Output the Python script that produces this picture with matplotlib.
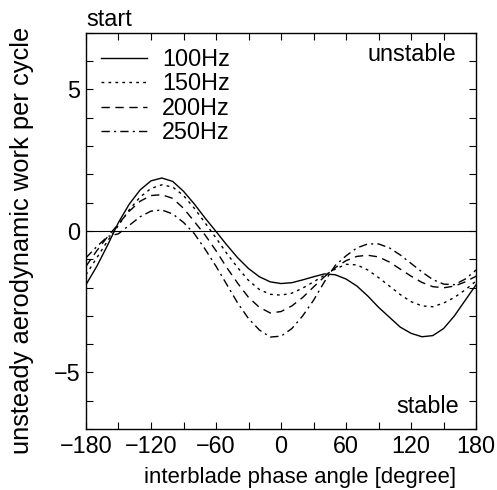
import matplotlib
matplotlib.use("Agg")
import matplotlib.pyplot as plt
from matplotlib.ticker import MultipleLocator, FixedLocator

plt.rcParams['font.family'] = ['Liberation Sans', 'DejaVu Sans']

angle = list(range(-180, 181, 10))

w100 = [-1.9, -1.25, -0.5, 0.3, 0.95, 1.45, 1.77, 1.87, 1.75, 1.4, 0.95, 0.45,
        -0.02, -0.5, -0.95, -1.33, -1.62, -1.8, -1.86, -1.83, -1.73, -1.62, -1.52,
        -1.55, -1.7, -1.95, -2.3, -2.7, -3.05, -3.4, -3.62, -3.74, -3.7, -3.45,
        -3.0, -2.45, -1.9]
w150 = [-1.55, -0.95, -0.35, 0.2, 0.75, 1.2, 1.5, 1.63, 1.55, 1.25, 0.8, 0.28,
        -0.25, -0.8, -1.3, -1.75, -2.07, -2.24, -2.27, -2.2, -2.02, -1.8, -1.57,
        -1.35, -1.18, -1.2, -1.38, -1.65, -1.95, -2.25, -2.5, -2.65, -2.68, -2.55,
        -2.35, -2.08, -1.77]
w200 = [-1.25, -0.7, -0.2, 0.25, 0.7, 1.05, 1.25, 1.28, 1.15, 0.8, 0.33, -0.15,
        -0.7, -1.3, -1.85, -2.35, -2.7, -2.9, -2.85, -2.65, -2.35, -1.98, -1.62,
        -1.3, -1.05, -0.9, -0.86, -0.92, -1.1, -1.35, -1.6, -1.82, -1.97, -2.01,
        -1.95, -1.8, -1.6]
w250 = [-0.95, -0.55, -0.2, -0.1, 0.2, 0.5, 0.7, 0.74, 0.6, 0.3, -0.1, -0.65,
        -1.25, -1.9, -2.55, -3.1, -3.5, -3.75, -3.72, -3.45, -3.0, -2.45, -1.8,
        -1.22, -0.88, -0.6, -0.46, -0.46, -0.6, -0.85, -1.15, -1.45, -1.72, -1.88,
        -1.9, -1.7, -1.38]

labels = ['100Hz', '150Hz', '200Hz', '250Hz']
styles = ['-', (0, (2, 3)), (0, (6, 4)), (0, (6, 3, 1.5, 3))]

xticks = [-180, -120, -60, 0, 60, 120, 180]
yticks = [-5, 0, 5]

FS = 16.8

fig = plt.figure(figsize=(4.97, 4.9), dpi=100)
ax = fig.add_axes([0.173, 0.1245, 0.785, 0.8085])

for w, lab, ls in zip([w100, w150, w200, w250], labels, styles):
    ax.plot(angle, w, color='black', lw=1.0, linestyle=ls, label=lab)

ax.axhline(0, color='black', lw=0.8)

ax.set_xlim(-180, 180)
ax.set_ylim(-7, 7)
ax.xaxis.set_major_locator(FixedLocator(xticks))
ax.xaxis.set_minor_locator(MultipleLocator(30))
ax.yaxis.set_major_locator(FixedLocator(yticks))
ax.yaxis.set_minor_locator(MultipleLocator(1))
ax.tick_params(which='both', direction='in', top=True, right=True,
               length=5, width=0.8, labelsize=FS)
ax.tick_params(axis='x', pad=4)
ax.tick_params(axis='y', pad=4)

ax.set_xlabel('interblade phase angle [degree]', fontsize=15.9)
ax.set_ylabel('unsteady aerodynamic work per cycle', fontsize=18.4)
ax.xaxis.set_label_coords(0.549, -0.097)
ax.yaxis.set_label_coords(-0.133, 0.476)

ax.text(0.0, 1.005, 'start', transform=ax.transAxes, fontsize=FS,
        ha='left', va='bottom')
ax.text(0.948, 0.975, 'unstable', transform=ax.transAxes, fontsize=FS,
        ha='right', va='top')
ax.text(0.955, 0.028, 'stable', transform=ax.transAxes, fontsize=FS,
        ha='right', va='bottom')

leg = ax.legend(loc='upper left', frameon=False, fontsize=FS,
                handlelength=1.95, handletextpad=0.65, labelspacing=0.06,
                borderaxespad=0.25, bbox_to_anchor=(0.0, 1.0))

for s in ax.spines.values():
    s.set_linewidth(1.0)

fig.savefig('out.png', dpi=100)
